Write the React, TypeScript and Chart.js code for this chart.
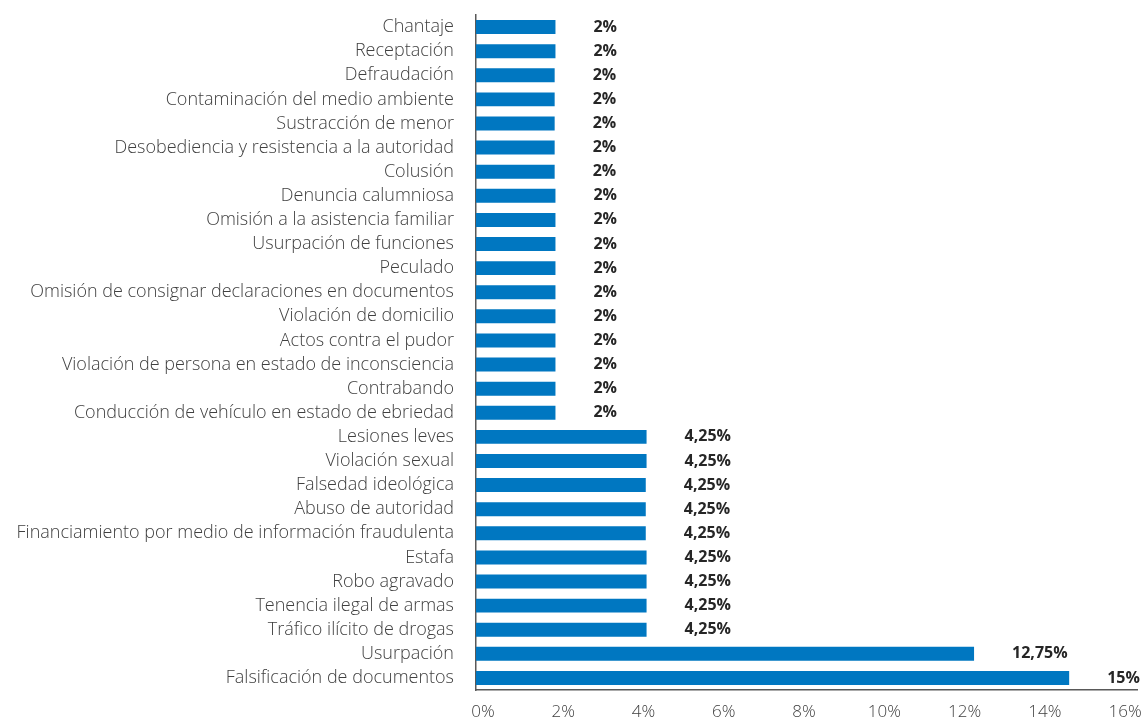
import React, { useEffect, useRef } from "react";
import { Chart, registerables } from "chart.js";

Chart.register(...registerables);

const categories = [
  "Chantaje",
  "Receptación",
  "Defraudación",
  "Contaminación del medio ambiente",
  "Sustracción de menor",
  "Desobediencia y resistencia a la autoridad",
  "Colusión",
  "Denuncia calumniosa",
  "Omisión a la asistencia familiar",
  "Usurpación de funciones",
  "Peculado",
  "Omisión de consignar declaraciones en documentos",
  "Violación de domicilio",
  "Actos contra el pudor",
  "Violación de persona en estado de inconsciencia",
  "Contrabando",
  "Conducción de vehículo en estado de ebriedad",
  "Lesiones leves",
  "Violación sexual",
  "Falsedad ideológica",
  "Abuso de autoridad",
  "Financiamiento por medio de información fraudulenta",
  "Estafa",
  "Robo agravado",
  "Tenencia ilegal de armas",
  "Tráfico ilícito de drogas",
  "Usurpación",
  "Falsificación de documentos",
];

const values = [
  1.98, 1.98, 1.96, 1.96, 1.96, 1.96, 1.96, 1.98, 1.98, 1.98, 1.98, 1.98, 1.98, 1.98,
  1.98, 1.98, 1.98, 4.25, 4.25, 4.23, 4.23, 4.23, 4.25, 4.25, 4.25, 4.25, 12.41, 14.78,
];

const valueLabels = [
  "2%", "2%", "2%", "2%", "2%", "2%", "2%", "2%", "2%", "2%", "2%", "2%", "2%", "2%",
  "2%", "2%", "2%", "4,25%", "4,25%", "4,25%", "4,25%", "4,25%", "4,25%", "4,25%",
  "4,25%", "4,25%", "12,75%", "15%",
];

const xTickStep = 2;
const xMax = 16.47;

const labelFont = '"Open Sans", sans-serif';

const valueLabelPlugin = {
  id: "valueLabels",
  afterDatasetsDraw(chart: any) {
    const ctx = chart.ctx;
    const meta = chart.getDatasetMeta(0);
    ctx.save();
    ctx.font = 'bold 16px "Open Sans", sans-serif';
    ctx.fillStyle = "#262626";
    ctx.textAlign = "left";
    ctx.textBaseline = "middle";
    meta.data.forEach((bar: any, i: number) => {
      ctx.fillText(valueLabels[i], bar.x + 38, bar.y);
    });
    ctx.restore();
  },
};

export default function App() {
  const canvasRef = useRef<HTMLCanvasElement | null>(null);

  useEffect(() => {
    if (!canvasRef.current) return;
    const chart = new Chart(canvasRef.current, {
      type: "bar",
      data: {
        labels: categories,
        datasets: [
          {
            data: values,
            backgroundColor: "#0077C1",
            barPercentage: 0.58,
            categoryPercentage: 1,
          },
        ],
      },
      options: {
        indexAxis: "y",
        responsive: false,
        maintainAspectRatio: false,
        animation: false,
        layout: { padding: { top: 15, right: 7, bottom: 0, left: 0 } },
        plugins: {
          legend: { display: false },
          tooltip: { enabled: false },
        },
        scales: {
          x: {
            type: "linear",
            min: 0,
            max: xMax,
            grid: { display: false, drawTicks: false },
            border: { display: true, color: "#595959", width: 1.5 },
            ticks: {
              stepSize: xTickStep,
              includeBounds: false,
              labelOffset: 7,
              padding: 12,
              color: "#404040",
              font: { family: labelFont, size: 17, weight: 300 },
              callback: (v: any) => `${v}%`,
            },
            afterFit(scale: any) {
              scale.height = 31;
              scale.paddingLeft = 0;
              scale.paddingRight = 0;
            },
          },
          y: {
            grid: { display: false, drawTicks: false },
            border: { display: true, color: "#595959", width: 1.5 },
            ticks: {
              autoSkip: false,
              padding: 22,
              color: "#404040",
              font: { family: labelFont, size: 18, weight: 300 },
            },
            afterFit(scale: any) {
              scale.width = 476;
              scale.paddingTop = 0;
              scale.paddingBottom = 0;
            },
          },
        },
      },
      plugins: [valueLabelPlugin],
    });
    return () => chart.destroy();
  }, []);

  return (
    <div style={{ position: "fixed", left: 0, top: 0, width: 1144, height: 721, background: "#fff" }}>
      <canvas ref={canvasRef} width={1144} height={721} style={{ width: 1144, height: 721 }} />
    </div>
  );
}
